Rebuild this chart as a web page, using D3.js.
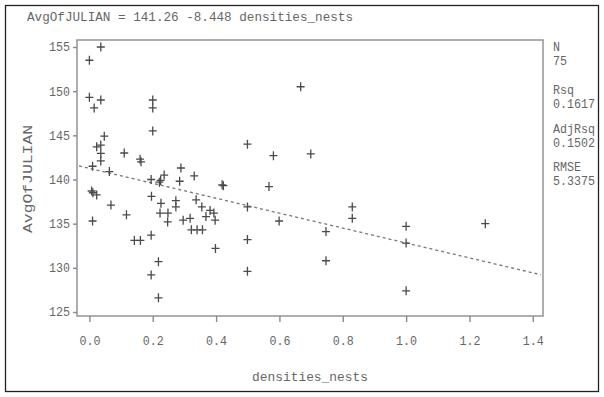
<!DOCTYPE html>
<html><head><meta charset="utf-8">
<script src="https://cdn.jsdelivr.net/npm/d3@7/dist/d3.min.js"></script>
<style>
body{margin:0;background:#fff}
svg text{font-family:"Liberation Mono","DejaVu Sans Mono",monospace;fill:#666;font-size:12px}
</style>
</head><body>
<svg id="c" width="604" height="397"></svg>
<script>
// ---- data ----
const densities = [0.036,0.0,0.0,0.036,0.015,0.2,0.2,0.2,0.047,0.023,
  0.036,0.036,0.036,0.11,0.16,0.163,0.01,0.063,0.289,0.331,
  0.195,0.221,0.225,0.236,0.285,0.419,0.423,0.499,0.581,0.699,
  0.667,0.567,0.007,0.011,0.023,0.196,0.068,0.117,0.226,0.273,
  0.273,0.223,0.248,0.247,0.01,0.296,0.318,0.337,0.322,0.34,
  0.357,0.195,0.142,0.161,0.218,0.195,0.218,0.355,0.381,0.393,
  0.368,0.397,0.499,0.599,0.499,0.398,0.499,0.747,0.747,0.83,
  0.83,1.0,1.0,1.0,1.25];
const avgJulian = [155.0,153.5,149.3,149.0,148.1,149.0,148.1,145.5,144.9,143.7,
  143.9,142.95,142.1,143.0,142.3,142.0,141.5,140.9,141.3,140.4,
  140.0,139.7,139.9,140.5,139.8,139.4,139.3,144.0,142.7,142.9,
  150.5,139.2,138.7,138.5,138.25,138.1,137.1,136.0,137.3,137.6,
  136.9,136.2,136.2,135.2,135.3,135.4,135.6,137.7,134.3,134.3,
  134.3,133.7,133.1,133.1,130.7,129.2,126.6,136.9,136.5,136.2,
  135.8,135.4,136.9,135.3,133.2,132.2,129.6,134.1,130.8,136.9,
  135.6,134.7,132.8,127.4,135.0];
const xTickValues = [0,0.2,0.4,0.6,0.8,1.0,1.2,1.4];
const xTickLabels = ["0.0","0.2","0.4","0.6","0.8","1.0","1.2","1.4"];
const yTickValues = [125,130,135,140,145,150,155];
const statLabels = ["N","Rsq","AdjRsq","RMSE"];
const statValues = ["75","0.1617","0.1502","5.3375"];
const fitIntercept = 141.26, fitSlope = -8.448;
const titleText = "AvgOfJULIAN = 141.26 -8.448 densities_nests";
const xTitle = "densities_nests", yTitle = "AvgOfJULIAN";

// ---- layout ----
const svg = d3.select("#c");
const frame = {l:77, r:543, t:40, b:316};
const x = d3.scaleLinear().domain([0,1.4]).range([89.4,532.8]);
const y = d3.scaleLinear().domain([125,155]).range([312,47]);

// outer border
svg.append("rect").attr("x",5.5).attr("y",5.5).attr("width",593).attr("height",386)
  .attr("fill","none").attr("stroke","#222").attr("stroke-width",1.3);

// plot frame
svg.append("rect").attr("x",frame.l).attr("y",frame.t)
  .attr("width",frame.r-frame.l).attr("height",frame.b-frame.t)
  .attr("fill","none").attr("stroke","#9a9a9a").attr("stroke-width",1.6);

// axes
const xAxis = d3.axisBottom(x).tickValues(xTickValues)
  .tickFormat((d,i)=>xTickLabels[i]).tickSizeOuter(0).tickSizeInner(6).tickPadding(14);
const gx = svg.append("g").attr("transform",`translate(0,${frame.b})`).call(xAxis);
gx.select(".domain").remove();
gx.selectAll("line").attr("stroke","#8a8a8a").attr("stroke-width",1.4);
gx.selectAll("text").attr("fill","#666").style("font-size","12px")
  .attr("font-family",null).attr("textLength",21).attr("lengthAdjust","spacingAndGlyphs");

const yAxis = d3.axisLeft(y).tickValues(yTickValues).tickSizeOuter(0).tickSizeInner(4).tickPadding(3);
const gy = svg.append("g").attr("transform",`translate(${frame.l},0)`).call(yAxis);
gy.select(".domain").remove();
gy.selectAll("line").attr("stroke","#8a8a8a").attr("stroke-width",1.4);
gy.selectAll("text").attr("fill","#666").style("font-size","12px").attr("font-family",null)
  .attr("textLength",21).attr("lengthAdjust","spacingAndGlyphs");

// regression line
const x0 = x.invert(frame.l+2), x1 = x.invert(frame.r-2);
svg.append("line")
  .attr("x1",x(x0)).attr("y1",y(fitIntercept+fitSlope*x0))
  .attr("x2",x(x1)).attr("y2",y(fitIntercept+fitSlope*x1))
  .attr("stroke","#777").attr("stroke-width",1.3).attr("stroke-dasharray","3,3");

// points
const pts = densities.map((d,i)=>[d,avgJulian[i]]);
svg.append("g").selectAll("path").data(pts).join("path")
  .attr("transform",d=>`translate(${x(d[0])},${y(d[1])})`)
  .attr("d","M-4,0H4M0,-4.5V4.5")
  .attr("stroke","#4a4a4a").attr("stroke-width",1.3).attr("fill","none");

// title
svg.append("text").attr("x",27).attr("y",21).text(titleText)
  .attr("textLength",326).attr("lengthAdjust","spacingAndGlyphs").style("font-size","13px");

// axis titles
svg.append("text").attr("x",310).attr("y",381).attr("text-anchor","middle").text(xTitle)
  .attr("textLength",116).attr("lengthAdjust","spacingAndGlyphs").style("font-size","13px");
svg.append("text").attr("transform","translate(32,179) rotate(-90)").attr("text-anchor","middle")
  .text(yTitle).attr("textLength",108).attr("lengthAdjust","spacingAndGlyphs").style("font-size","12px");

// stats
const statY = [51,94,133,171];
statLabels.forEach((s,i)=>{
  svg.append("text").attr("x",553).attr("y",statY[i]).text(s)
    .attr("textLength",s.length*7).attr("lengthAdjust","spacingAndGlyphs").style("font-size","12px");
  svg.append("text").attr("x",553).attr("y",statY[i]+14).text(statValues[i])
    .attr("textLength",statValues[i].length*7).attr("lengthAdjust","spacingAndGlyphs").style("font-size","12px");
});
</script>
</body></html>
